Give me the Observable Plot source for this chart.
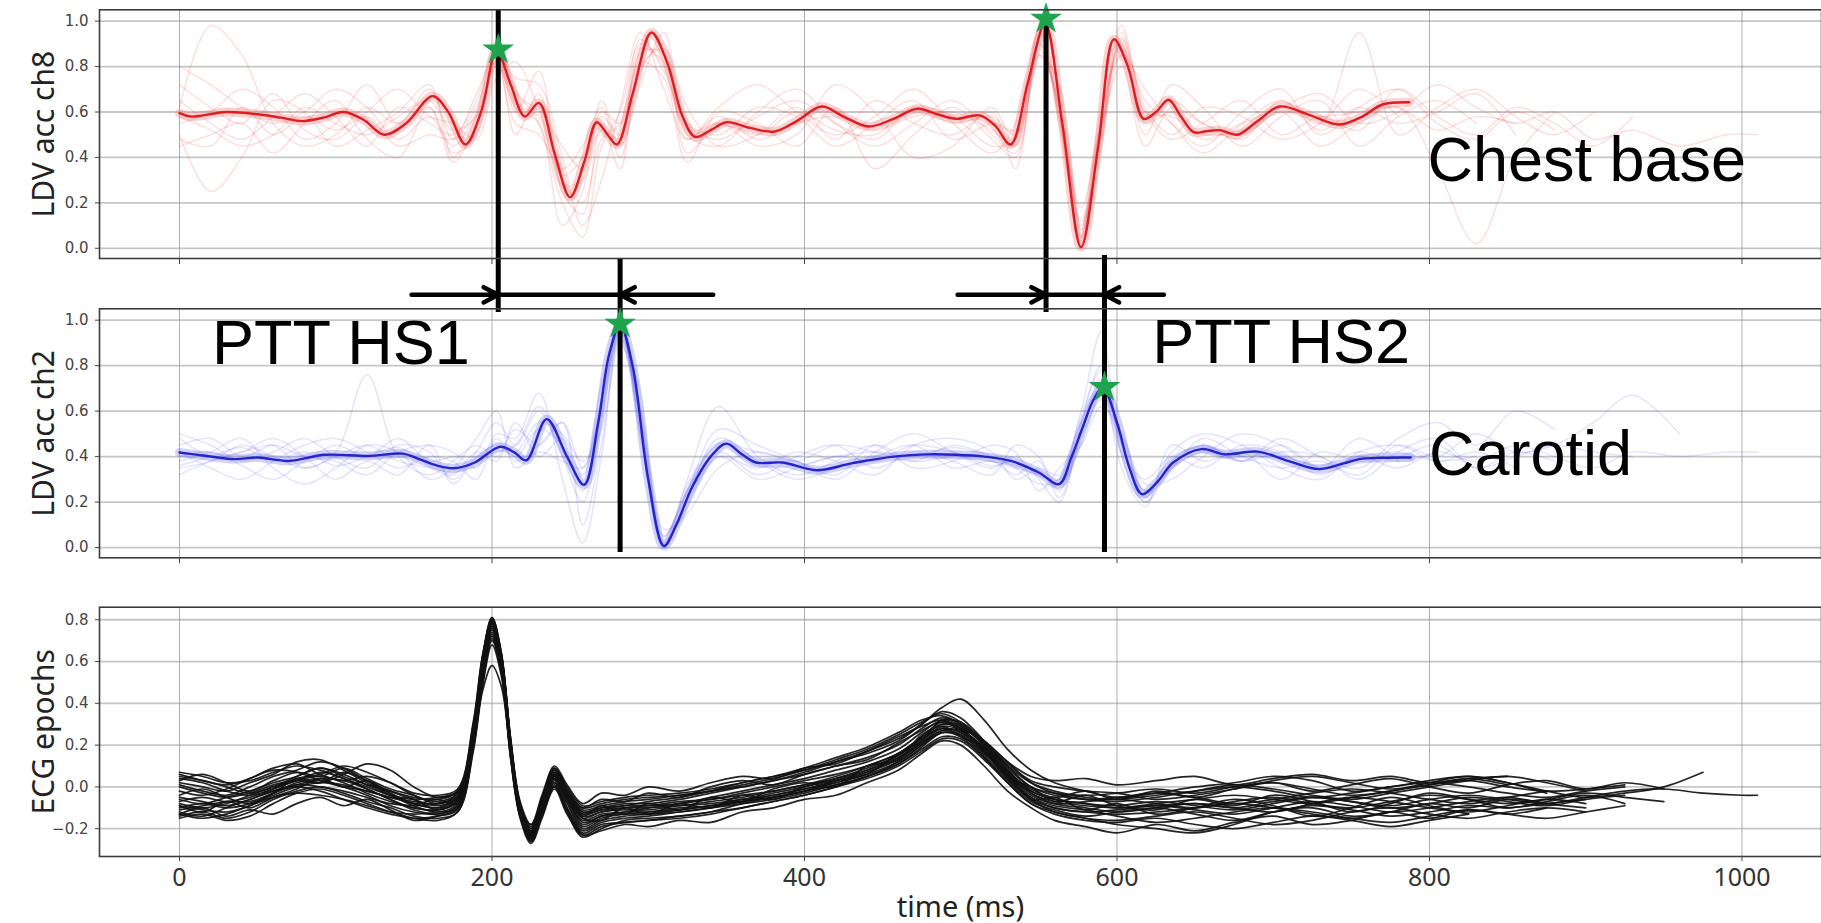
<!DOCTYPE html>
<html><head><meta charset="utf-8">
<script src="https://cdn.jsdelivr.net/npm/d3@7"></script>
<script src="https://cdn.jsdelivr.net/npm/@observablehq/plot@0.6"></script>
<style>
body{margin:0;background:#fff;}
#wrap{position:relative;width:1821px;height:923px;overflow:hidden;background:#fff;}
#wrap svg{position:absolute;left:0;top:0;}
</style></head><body><div id="wrap"></div>
<script>
// ---------- axes / ticks ----------
const xTicks = [0, 200, 400, 600, 800, 1000];
const ldvTicks = [0, 0.2, 0.4, 0.6, 0.8, 1.0];
const ecgTicks = [-0.2, 0, 0.2, 0.4, 0.6, 0.8];
const yLabels = ["LDV acc ch8", "LDV acc ch2", "ECG epochs"];
const xLabel = "time (ms)";

// ---------- LDV chest (ch8) mean ----------
const redMeanT = [0,7,15,30,50,65,78,92,105,118,131,145,162,172,183,193,203,212,221,230,240,250,259,267,274,280,290,302,312,322,330,340,350,365,381,395,411,425,441,457,472,485,497,512,522,532,543,554,565,577,588,598,607,617,625,633,641,649,657,666,677,690,704,722,742,757,770,787];
const redMeanV = [0.595,0.58,0.585,0.60,0.59,0.575,0.56,0.575,0.60,0.565,0.50,0.55,0.67,0.60,0.457,0.60,0.87,0.72,0.58,0.64,0.42,0.225,0.38,0.555,0.50,0.457,0.68,0.95,0.82,0.58,0.49,0.52,0.555,0.53,0.514,0.56,0.624,0.58,0.536,0.57,0.614,0.59,0.57,0.585,0.54,0.457,0.73,0.99,0.55,0.005,0.45,0.92,0.80,0.57,0.60,0.654,0.58,0.511,0.515,0.52,0.50,0.56,0.624,0.59,0.545,0.58,0.633,0.643];

// ---------- LDV carotid (ch2) mean ----------
const blueMeanT = [0,15,35,50,70,93,121,143,153,165,176,189,205,214,222,235,248,259,268,275,282,290,300,310,318,328,340,350,360,369,386,408,430,457,480,497,515,532,550,563,571,578,585,591,600,608,616,626,636,654,669,690,710,729,745,755,770,788];
const blueMeanV = [0.418,0.405,0.389,0.396,0.381,0.408,0.403,0.413,0.39,0.36,0.349,0.374,0.443,0.42,0.384,0.565,0.40,0.276,0.55,0.85,0.98,0.80,0.30,0.007,0.10,0.264,0.40,0.457,0.41,0.374,0.374,0.34,0.37,0.40,0.41,0.408,0.40,0.381,0.33,0.279,0.40,0.528,0.65,0.704,0.55,0.35,0.235,0.29,0.374,0.433,0.41,0.422,0.38,0.345,0.37,0.389,0.395,0.396];

// ---------- individual LDV epochs (shared time grid) ----------
const ldvT = [0,20,40,60,80,100,120,140,160,175,190,203,215,230,245,258,270,282,295,310,325,345,370,395,420,445,470,495,520,535,550,563,577,590,603,618,635,655,680,705,730,755,780,805,830,855,880,905,930,960,990,1010];
const redEpochs = [
 [0.80,0.72,0.62,0.55,0.60,0.70,0.62,0.48,0.58,0.45,0.60,0.90,0.70,0.55,0.20,0.05,0.45,0.60,0.90,0.80,0.50,0.45,0.60,0.70,0.55,0.45,0.55,0.65,0.50,0.42,0.85,0.65,0.10,0.50,0.92,0.65,0.55,0.45,0.60,0.70,0.50,0.62,0.70,0.55,0.48,0.60,0.52],
 [0.62,0.98,0.85,0.55,0.45,0.50,0.62,0.55,0.70,0.48,0.62,0.85,0.75,0.72,0.40,0.10,0.30,0.62,0.95,0.70,0.48,0.62,0.72,0.60,0.50,0.58,0.70,0.55,0.42,0.55,0.95,0.55,0.05,0.62,0.85,0.50,0.72,0.62,0.45,0.58,0.65,0.45,0.58,0.65,0.55],
 [0.50,0.25,0.40,0.65,0.60,0.45,0.52,0.60,0.72,0.40,0.58,0.80,0.55,0.50,0.35,0.45,0.62,0.40,0.78,0.90,0.42,0.55,0.45,0.50,0.72,0.60,0.40,0.45,0.62,0.45,0.90,0.70,0.02,0.45,0.95,0.62,0.50,0.62,0.58,0.48,0.55,0.70,0.58],
 [0.55,0.60,0.70,0.62,0.48,0.55,0.72,0.55,0.62,0.42,0.50,0.88,0.60,0.78,0.25,0.15,0.55,0.35,0.80,0.88,0.62,0.45,0.50,0.62,0.48,0.65,0.55,0.50,0.60,0.35,0.88,0.62,0.12,0.48,0.85,0.70,0.55,0.42,0.55,0.65,0.55,0.95,0.50,0.62,0.70,0.58,0.50,0.60],
 [0.45,0.50,0.55,0.42,0.55,0.65,0.48,0.40,0.62,0.38,0.55,0.82,0.62,0.55,0.10,0.25,0.60,0.55,0.82,0.75,0.38,0.60,0.55,0.45,0.62,0.35,0.50,0.62,0.48,0.40,0.92,0.58,0.18,0.55,0.80,0.45,0.62,0.55,0.50,0.60,0.45,0.55,0.62,0.35,0.02,0.40,0.60],
 [0.65,0.55,0.48,0.58,0.68,0.58,0.45,0.62,0.55,0.50,0.65,0.92,0.68,0.60,0.30,0.20,0.48,0.55,0.92,0.78,0.55,0.50,0.62,0.58,0.45,0.55,0.65,0.48,0.55,0.52,0.96,0.60,0.00,0.58,0.90,0.55,0.60,0.48,0.55,0.62,0.68,0.55,0.60,0.72,0.62,0.55,0.60,0.48,0.52,0.45,0.50,0.50],
 [0.72,0.62,0.55,0.68,0.52,0.48,0.60,0.70,0.58,0.55,0.48,0.75,0.82,0.62,0.45,0.35,0.65,0.45,0.72,0.95,0.55,0.48,0.58,0.65,0.55,0.48,0.62,0.58,0.45,0.48,0.85,0.72,0.08,0.52,0.98,0.60,0.48,0.55,0.65,0.50,0.58,0.52,0.70,0.58,0.50,0.62,0.55,0.45,0.58],
 [0.48,0.45,0.62,0.50,0.58,0.52,0.58,0.45,0.50,0.48,0.68,0.85,0.50,0.68,0.32,0.40,0.58,0.50,0.88,0.82,0.48,0.58,0.48,0.55,0.58,0.52,0.58,0.60,0.52,0.45,0.90,0.62,0.05,0.58,0.88,0.58,0.65,0.55,0.48,0.65,0.52,0.62,0.55,0.60,0.68,0.50],
 [0.58,0.52,0.45,0.50,0.62,0.55,0.50,0.58,0.65,0.52,0.58,0.86,0.64,0.58,0.28,0.30,0.52,0.48,0.86,0.86,0.52,0.55,0.50,0.60,0.52,0.50,0.62,0.55,0.58,0.50,0.94,0.58,0.03,0.52,0.93,0.60,0.58,0.50,0.52,0.60,0.58,0.60,0.62,0.52,0.58,0.55]
];
const blueEpochs = [
 [0.50,0.45,0.38,0.42,0.48,0.40,0.35,0.45,0.42,0.30,0.42,0.55,0.45,0.60,0.40,0.20,0.55,0.95,0.62,0.05,0.25,0.52,0.45,0.38,0.30,0.42,0.50,0.42,0.35,0.40,0.30,0.20,0.55,0.80,0.55,0.22,0.42,0.50,0.45,0.35,0.30,0.42,0.45,0.38,0.42,0.35],
 [0.35,0.38,0.45,0.40,0.35,0.42,0.76,0.40,0.32,0.38,0.45,0.40,0.52,0.45,0.55,0.35,0.62,1.00,0.50,0.02,0.18,0.40,0.35,0.42,0.38,0.32,0.45,0.48,0.42,0.30,0.35,0.32,0.60,0.95,0.40,0.20,0.35,0.45,0.38,0.48,0.40,0.35,0.48,0.55,0.45,0.60,0.52],
 [0.42,0.35,0.30,0.38,0.45,0.48,0.42,0.35,0.40,0.38,0.30,0.48,0.38,0.45,0.55,0.10,0.45,0.90,0.60,0.00,0.30,0.62,0.40,0.32,0.38,0.45,0.35,0.38,0.45,0.42,0.25,0.35,0.45,0.62,0.50,0.28,0.30,0.40,0.50,0.45,0.35,0.48,0.38],
 [0.38,0.42,0.48,0.35,0.28,0.35,0.45,0.42,0.30,0.35,0.48,0.60,0.35,0.42,0.38,0.35,0.72,0.98,0.48,0.05,0.25,0.42,0.32,0.40,0.45,0.35,0.42,0.38,0.32,0.45,0.40,0.25,0.50,0.72,0.35,0.18,0.45,0.38,0.42,0.30,0.42,0.38,0.40,0.45,0.35,0.40,0.45,0.42,0.40],
 [0.45,0.48,0.40,0.45,0.40,0.38,0.32,0.42,0.45,0.42,0.35,0.50,0.48,0.68,0.30,0.02,0.40,0.92,0.68,0.08,0.15,0.35,0.42,0.38,0.45,0.42,0.38,0.45,0.40,0.35,0.28,0.30,0.58,0.78,0.48,0.25,0.35,0.48,0.40,0.35,0.38,0.32,0.45,0.40,0.50,0.42,0.45,0.55,0.67,0.50],
 [0.32,0.38,0.42,0.48,0.40,0.30,0.38,0.32,0.45,0.28,0.40,0.45,0.42,0.55,0.50,0.38,0.52,0.96,0.55,0.00,0.22,0.48,0.38,0.30,0.35,0.40,0.45,0.35,0.38,0.32,0.38,0.22,0.48,0.65,0.42,0.30,0.40,0.35,0.45,0.42,0.32,0.40,0.35,0.42,0.38,0.45,0.40,0.35,0.42,0.40,0.42,0.42],
 [0.40,0.42,0.36,0.30,0.38,0.45,0.40,0.48,0.38,0.40,0.40,0.42,0.45,0.62,0.42,0.25,0.58,0.99,0.52,0.03,0.20,0.40,0.30,0.35,0.40,0.38,0.45,0.42,0.36,0.38,0.32,0.30,0.55,0.70,0.45,0.20,0.38,0.45,0.38,0.42,0.40,0.30,0.42,0.48,0.35,0.42,0.38],
 [0.48,0.40,0.42,0.45,0.35,0.40,0.45,0.38,0.35,0.32,0.42,0.38,0.55,0.40,0.48,0.32,0.65,0.97,0.58,0.02,0.28,0.45,0.42,0.38,0.32,0.45,0.38,0.40,0.38,0.35,0.32,0.28,0.45,0.68,0.50,0.25,0.35,0.42,0.38,0.45,0.35,0.40,0.42,0.38,0.40],
 [0.36,0.40,0.44,0.38,0.42,0.36,0.40,0.44,0.36,0.33,0.38,0.46,0.40,0.52,0.45,0.28,0.60,0.97,0.56,0.01,0.24,0.46,0.36,0.36,0.40,0.42,0.40,0.44,0.40,0.36,0.34,0.26,0.52,0.74,0.46,0.22,0.40,0.44,0.40,0.40,0.36,0.42,0.38,0.42]
];

// ---------- ECG epochs (shared time grid) ----------
const ecgT = [0,15,30,45,60,75,90,105,120,135,150,165,178,188,194,200,206,212,218,225,232,240,248,258,270,285,300,320,340,360,380,400,420,440,460,475,488,500,515,530,545,560,580,600,625,650,675,700,725,750,775,800,825,850,875,900,925,950,975,1000,1010];
const ecgEpochs = [
 [0.07,0.05,0.02,0.03,0.07,0.10,0.08,0.04,0.00,-0.04,-0.06,-0.05,
  -0.02,0.30,0.60,0.80,0.62,0.22,-0.08,-0.20,-0.05,0.08,-0.02,-0.12,-0.10,-0.09,
  -0.07,-0.05,-0.02,0.02,0.05,0.08,0.12,0.16,0.22,0.30,0.38,0.42,0.32,0.18,0.08,0.02,-0.02,-0.05,
  -0.03,0.00,0.02,0.05,0.03,-0.02,0.00,0.03,0.05,0.02,-0.03],
 [-0.12,-0.14,-0.10,-0.06,-0.02,0.00,-0.02,-0.06,-0.10,-0.13,-0.15,-0.14,
  -0.10,0.22,0.55,0.78,0.58,0.15,-0.14,-0.26,-0.12,0.02,-0.10,-0.22,-0.18,-0.17,
  -0.16,-0.14,-0.12,-0.10,-0.07,-0.04,0.00,0.05,0.12,0.20,0.26,0.24,0.14,0.02,-0.08,-0.12,-0.15,-0.16,
  -0.14,-0.12,-0.15,-0.18,-0.16,-0.12,-0.10,-0.13,-0.15,-0.12,-0.10,-0.12],
 [0.02,0.00,-0.02,0.02,0.06,0.12,0.13,0.08,0.02,-0.03,-0.08,-0.10,
  -0.05,0.28,0.62,0.81,0.64,0.20,-0.10,-0.22,-0.06,0.09,-0.01,-0.10,-0.08,-0.06,
  -0.05,-0.04,-0.02,0.00,0.03,0.06,0.10,0.14,0.20,0.28,0.33,0.30,0.20,0.08,-0.02,-0.06,-0.08,-0.10,
  -0.08,-0.06,-0.04,-0.06,-0.08,-0.05,-0.02,0.02,0.05,0.02,-0.02,-0.05,-0.03,0.00,0.07],
 [-0.08,-0.10,-0.08,-0.04,0.00,0.03,0.05,0.02,-0.03,-0.07,-0.10,-0.11,
  -0.06,0.26,0.58,0.76,0.60,0.18,-0.12,-0.24,-0.10,0.05,-0.05,-0.18,-0.14,-0.12,
  -0.12,-0.11,-0.09,-0.07,-0.05,-0.02,0.02,0.07,0.14,0.22,0.29,0.27,0.18,0.06,-0.03,-0.07,-0.09,-0.10,
  -0.09,-0.08,-0.10,-0.07,-0.05,-0.07,-0.09,-0.06,-0.04,-0.06,-0.08,-0.05,-0.02,-0.01,-0.03,-0.04,-0.04],
 [-0.14,-0.12,-0.15,-0.12,-0.06,-0.02,0.00,-0.03,-0.07,-0.10,-0.14,-0.15,
  -0.12,0.18,0.50,0.70,0.55,0.14,-0.14,-0.25,-0.14,0.00,-0.12,-0.24,-0.20,-0.16,
  -0.15,-0.14,-0.12,-0.08,-0.05,-0.02,0.03,0.08,0.15,0.24,0.30,0.28,0.17,0.04,-0.06,-0.12,-0.15,-0.18,
  -0.20,-0.22,-0.18,-0.12,-0.10,-0.14,-0.12,-0.08,-0.10,-0.06,-0.08],
 [-0.02,-0.04,-0.01,0.04,0.08,0.07,0.03,0.00,-0.02,-0.05,-0.07,-0.08,
  -0.04,0.28,0.60,0.79,0.63,0.21,-0.09,-0.21,-0.07,0.07,-0.03,-0.14,-0.12,-0.10,
  -0.09,-0.07,-0.06,-0.03,0.00,0.03,0.06,0.10,0.16,0.24,0.31,0.29,0.20,0.10,0.02,-0.02,-0.05,-0.06,
  -0.04,-0.02,0.00,-0.02,-0.05,-0.03,0.00,0.02,0.00,-0.03,-0.05,-0.02,0.00],
 [-0.06,-0.08,-0.05,-0.02,0.02,0.05,0.09,0.06,0.01,-0.04,-0.09,-0.12,
  -0.08,0.24,0.58,0.77,0.60,0.18,-0.11,-0.23,-0.09,0.04,-0.06,-0.16,-0.13,-0.12,
  -0.10,-0.08,-0.06,-0.04,-0.02,0.01,0.04,0.09,0.15,0.23,0.30,0.28,0.18,0.07,-0.03,-0.08,-0.10,-0.12,
  -0.10,-0.08,-0.10,-0.12,-0.08,-0.05,-0.07,-0.10,-0.12,-0.09,-0.06,-0.08],
 [0.04,0.02,-0.02,-0.04,-0.01,0.04,0.06,0.10,0.07,0.02,-0.04,-0.07,
  -0.03,0.26,0.60,0.78,0.61,0.20,-0.10,-0.22,-0.07,0.06,-0.03,-0.12,-0.10,-0.08,
  -0.08,-0.06,-0.03,0.00,0.03,0.07,0.12,0.17,0.23,0.30,0.36,0.33,0.22,0.10,0.00,-0.04,-0.06,-0.05,
  -0.03,-0.05,-0.08,-0.06,-0.03,-0.01,-0.03,-0.06,-0.08,-0.05,-0.02],
 [-0.10,-0.08,-0.10,-0.08,-0.03,0.02,0.04,0.03,-0.01,-0.06,-0.11,-0.13,
  -0.09,0.22,0.54,0.74,0.58,0.17,-0.12,-0.24,-0.11,0.03,-0.07,-0.19,-0.15,-0.13,
  -0.12,-0.10,-0.09,-0.06,-0.04,-0.01,0.02,0.06,0.12,0.20,0.27,0.25,0.16,0.05,-0.05,-0.10,-0.12,-0.13,
  -0.12,-0.10,-0.08,-0.10,-0.13,-0.15,-0.12],
 [0.00,-0.03,-0.05,-0.03,0.01,0.03,0.02,0.06,0.11,0.08,0.00,-0.05,
  -0.02,0.27,0.61,0.80,0.63,0.21,-0.09,-0.21,-0.06,0.08,-0.02,-0.11,-0.09,-0.07,
  -0.06,-0.04,-0.02,0.01,0.04,0.08,0.13,0.18,0.25,0.31,0.35,0.31,0.21,0.09,0.00,-0.03,-0.04,-0.03,
  -0.01,-0.03,0.00,0.02,-0.01,-0.04,-0.02,0.01,0.03,0.00,-0.02,-0.01,0.01],
 [-0.13,-0.15,-0.13,-0.09,-0.05,-0.03,-0.04,-0.06,-0.09,-0.12,-0.13,-0.12,
  -0.10,0.20,0.52,0.72,0.56,0.15,-0.13,-0.25,-0.13,0.01,-0.10,-0.21,-0.17,-0.15,
  -0.14,-0.12,-0.10,-0.08,-0.06,-0.03,0.01,0.05,0.11,0.18,0.24,0.23,0.14,0.03,-0.07,-0.11,-0.14,-0.12,
  -0.10,-0.13,-0.16,-0.12,-0.09,-0.11,-0.14,-0.12,-0.09,-0.10,-0.08,-0.06],
 [-0.05,-0.07,-0.09,-0.06,-0.02,0.01,0.00,-0.02,-0.05,-0.08,-0.09,-0.08,
  -0.05,0.22,0.46,0.58,0.48,0.16,-0.10,-0.18,-0.07,0.04,-0.04,-0.13,-0.11,-0.10,
  -0.10,-0.09,-0.07,-0.05,-0.02,0.01,0.05,0.10,0.16,0.23,0.28,0.26,0.17,0.06,-0.04,-0.08,-0.07,-0.06,
  -0.08,-0.10,-0.07,-0.05,-0.08,-0.10,-0.07,-0.04,-0.06,-0.08,-0.06,-0.03,-0.05,-0.07],
 [0.05,0.03,0.00,-0.03,0.00,0.05,0.09,0.05,0.01,-0.02,-0.05,-0.06,
  -0.02,0.29,0.63,0.81,0.64,0.22,-0.08,-0.19,-0.05,0.09,0.00,-0.09,-0.07,-0.05,
  -0.04,-0.03,-0.01,0.02,0.05,0.09,0.14,0.19,0.26,0.32,0.34,0.30,0.21,0.11,0.03,0.00,-0.02,-0.03,
  -0.06,-0.04,-0.01,0.03,0.05,0.02,-0.01,0.01,0.04,0.05],
 [-0.09,-0.11,-0.12,-0.09,-0.04,0.00,0.02,0.01,-0.02,-0.05,-0.08,-0.10,
  -0.07,0.24,0.57,0.76,0.59,0.19,-0.11,-0.23,-0.10,0.05,-0.05,-0.17,-0.14,-0.13,
  -0.13,-0.12,-0.10,-0.07,-0.04,-0.01,0.03,0.07,0.13,0.21,0.28,0.26,0.17,0.05,-0.05,-0.09,-0.11,-0.14,
  -0.17,-0.15,-0.12,-0.10,-0.12,-0.15,-0.17,-0.14,-0.11,-0.13,-0.15,-0.12,-0.09],
 [-0.15,-0.13,-0.16,-0.14,-0.08,-0.03,-0.01,-0.04,-0.08,-0.12,-0.15,-0.16,
  -0.12,0.17,0.48,0.68,0.53,0.13,-0.15,-0.27,-0.15,-0.01,-0.13,-0.23,-0.19,-0.17,
  -0.16,-0.15,-0.13,-0.10,-0.07,-0.04,0.00,0.04,0.10,0.17,0.23,0.22,0.13,0.02,-0.08,-0.13,-0.16,-0.17,
  -0.15,-0.18,-0.20,-0.17,-0.14,-0.16,-0.19,-0.16,-0.13],
 [0.01,-0.02,-0.04,0.00,0.05,0.08,0.12,0.09,0.03,-0.02,-0.06,-0.09,
  -0.05,0.27,0.60,0.79,0.62,0.20,-0.10,-0.22,-0.08,0.06,-0.03,-0.13,-0.11,-0.09,
  -0.09,-0.08,-0.05,-0.02,0.01,0.04,0.08,0.12,0.18,0.26,0.32,0.31,0.22,0.12,0.02,-0.03,-0.06,-0.07,
  -0.05,-0.02,0.01,-0.01,-0.04,-0.06,-0.03,0.00,0.03,0.05,0.02,-0.02],
 [-0.07,-0.05,-0.07,-0.05,-0.01,0.03,0.07,0.04,-0.01,-0.06,-0.10,-0.11,
  -0.07,0.25,0.59,0.78,0.61,0.19,-0.11,-0.23,-0.09,0.05,-0.04,-0.15,-0.12,-0.11,
  -0.11,-0.09,-0.08,-0.06,-0.03,0.00,0.04,0.08,0.14,0.21,0.27,0.27,0.19,0.08,-0.02,-0.06,-0.08,-0.09,
  -0.07,-0.09,-0.11,-0.08,-0.05,-0.07,-0.10,-0.08,-0.05,-0.07,-0.09,-0.06,-0.04],
 [-0.11,-0.09,-0.07,-0.07,-0.03,0.01,0.03,0.00,-0.04,-0.09,-0.12,-0.13,
  -0.09,0.21,0.53,0.73,0.57,0.16,-0.12,-0.24,-0.12,0.02,-0.08,-0.20,-0.16,-0.14,
  -0.13,-0.11,-0.09,-0.07,-0.05,-0.02,0.01,0.05,0.11,0.19,0.26,0.25,0.15,0.04,-0.06,-0.10,-0.12,-0.11,
  -0.09,-0.11,-0.13,-0.10,-0.07,-0.09,-0.12,-0.10,-0.07,-0.05,-0.08,-0.10],
 [0.06,0.03,0.01,0.04,0.09,0.11,0.06,0.03,0.05,0.02,-0.03,-0.04,
  -0.01,0.31,0.63,0.80,0.63,0.23,-0.07,-0.18,-0.04,0.10,0.01,-0.08,-0.03,-0.04,
  0.00,-0.02,0.02,0.05,0.04,0.09,0.11,0.17,0.24,0.29,0.32,0.28,0.22,0.12,0.05,0.03,0.04,0.01,
  0.03,0.05,0.01,0.04,0.06,0.03,0.05,0.02,0.04,0.01],
 [-0.13,-0.10,-0.14,-0.11,-0.13,-0.08,-0.05,-0.09,-0.06,-0.11,-0.16,-0.14,
  -0.11,0.19,0.50,0.71,0.55,0.14,-0.14,-0.26,-0.13,0.00,-0.11,-0.23,-0.21,-0.18,
  -0.19,-0.16,-0.17,-0.12,-0.10,-0.06,-0.04,0.02,0.08,0.16,0.22,0.20,0.10,-0.02,-0.10,-0.16,-0.19,-0.22,
  -0.18,-0.21,-0.17,-0.14,-0.18,-0.16,-0.12,-0.15,-0.11,-0.13,-0.10],
 [-0.04,-0.01,-0.05,-0.08,-0.03,0.04,0.02,0.07,0.03,-0.04,-0.06,-0.11,
  -0.06,0.26,0.59,0.77,0.60,0.19,-0.10,-0.22,-0.08,0.06,-0.04,-0.14,-0.09,-0.13,
  -0.08,-0.11,-0.05,-0.07,-0.01,0.02,0.00,0.10,0.13,0.25,0.29,0.24,0.19,0.05,0.00,-0.07,-0.04,-0.09,
  -0.11,-0.06,-0.09,-0.04,-0.07,-0.12,-0.08,-0.03,-0.06,-0.10,-0.07,-0.04,-0.08],
 [-0.09,-0.12,-0.07,-0.10,-0.05,-0.01,0.04,0.00,0.03,-0.03,-0.08,-0.06,
  -0.08,0.23,0.56,0.75,0.59,0.18,-0.11,-0.23,-0.10,0.04,-0.05,-0.15,-0.16,-0.10,
  -0.13,-0.08,-0.10,-0.04,-0.06,0.00,0.03,0.06,0.16,0.22,0.32,0.29,0.16,0.07,-0.06,-0.05,-0.11,-0.08,
  -0.13,-0.10,-0.06,-0.09,-0.14,-0.10,-0.05,-0.09,-0.13],
 [0.03,0.06,0.02,-0.02,0.03,0.07,0.05,0.09,0.04,-0.01,-0.04,-0.08,
  -0.03,0.28,0.61,0.79,0.62,0.21,-0.09,-0.20,-0.06,0.07,-0.02,-0.10,-0.06,-0.07,
  -0.03,-0.05,0.00,0.03,0.01,0.06,0.10,0.13,0.21,0.27,0.31,0.27,0.19,0.07,-0.01,-0.05,-0.02,-0.06,
  -0.02,-0.05,-0.01,0.02,-0.02,0.01,0.04,0.00,-0.03,0.01,0.03,-0.01,0.02,-0.01]
];

// ---------- PTT annotations ----------
const chestPeakT = [204, 554.6];       // chest-base peak times (ms)
const chestStarV = [0.874, 1.01];
const carotidPeakT = [282, 592];       // carotid peak times (ms)
const carotidStarV = [0.984, 0.705];
const chestRuleTop = [1.047, 1.047], chestRuleBottom = [-0.283, -0.283];
const carotidRuleTop = [1.267, 1.284], carotidRuleBottom = [-0.022, -0.022];
const arrowLevel = -0.205;             // in chest-panel units
const arrowFrom = [148.5, 341.6, 498, 630];
const arrowTo = [204, 282, 554.6, 592];
const spanFrom = [204, 554.6], spanTo = [282, 592];
const textChest = [{t: 798.7, v: 0.298, s: "Chest base"}];
const textCarotidStart = [{t: 20.8, v: 0.808, s: "PTT HS1"}, {t: 799.7, v: 0.317, s: "Carotid"}];
const textCarotidEnd = [{t: 787.6, v: 0.81, s: "PTT HS2"}];

// ---------- tidy tables ----------
const tidy = (grid, traces) => traces.flatMap((vals, k) => vals.map((v, i) => ({t: grid[i], v, k})));
const pairs = (T, V) => T.map((t, i) => ({t, v: V[i]}));
const redE = tidy(ldvT, redEpochs), blueE = tidy(ldvT, blueEpochs), ecgE = tidy(ecgT, ecgEpochs);
const redM = pairs(redMeanT, redMeanV), blueM = pairs(blueMeanT, blueMeanV);
const chestRules = chestPeakT.map((t, i) => ({t, top: chestRuleTop[i], bottom: chestRuleBottom[i]}));
const carotidRules = carotidPeakT.map((t, i) => ({t, top: carotidRuleTop[i], bottom: carotidRuleBottom[i]}));
const arrows = arrowFrom.map((f, i) => ({f, to: arrowTo[i], y: arrowLevel}));
const spans = spanFrom.map((f, i) => ({f, to: spanTo[i], y: arrowLevel}));
const starsC = pairs(chestPeakT, chestStarV), starsK = pairs(carotidPeakT, carotidStarV);

const W = 1821, H = 923;
const curve = "catmull-rom";
const fmt = d3.format(".1f");

function panel({top, bottom, domain, ticks, marks, label, showX}) {
  return Plot.plot({
    width: W, height: H, marginLeft: 99, marginRight: 0, marginTop: top, marginBottom: H - bottom,
    x: {domain: [-51.2, 1050.9]},
    y: {domain},
    style: {background: "transparent", color: "#444", fontFamily: "DejaVu Sans", overflow: "visible"},
    marks: [
      Plot.gridY(ticks, {stroke: "#c6c6c6", strokeOpacity: 1, strokeWidth: 1.8}),
      Plot.gridX(xTicks, {stroke: "#a0a0a0", strokeOpacity: 0.85, strokeWidth: 1}),
      ...marks,
      Plot.frame({stroke: "#3c3c3c", strokeWidth: 1.6}),
      Plot.axisY(ticks, {tickSize: 4, tickPadding: 7, tickFormat: fmt, fontSize: 15, label: null}),
      showX
        ? Plot.axisX(xTicks, {tickSize: 5, tickPadding: 7, fontSize: 25, fontFamily: "Noto Sans", fill: "#333", label: null, tickFormat: d3.format("d")})
        : Plot.axisX(xTicks, {tickSize: 6, tickFormat: () => "", label: null}),
      Plot.text([label], {frameAnchor: "left", textAnchor: "middle", rotate: -90, dx: -46, lineAnchor: "bottom", fontSize: 30, fontFamily: "Noto Sans", fill: "#222"})
    ]
  });
}

const big = {x: "t", y: "v", text: "s", lineAnchor: "bottom", fontSize: 63, fontFamily: "Liberation Sans", fill: "#000"};

const p1 = panel({
  top: 9.3, bottom: 258, domain: [-0.045, 1.05], ticks: ldvTicks, label: yLabels[0],
  marks: [
    Plot.line(redE, {x: "t", y: "v", z: "k", stroke: "#ee3030", strokeOpacity: 0.15, strokeWidth: 1.5, curve}),
    Plot.line(redM, {x: "t", y: "v", stroke: "#f26a6a", strokeOpacity: 0.3, strokeWidth: 9, curve}),
    Plot.line(redM, {x: "t", y: "v", stroke: "#dc1e24", strokeWidth: 2.4, curve}),
    Plot.text(textChest, {...big, textAnchor: "start"}),
    Plot.ruleX(chestRules, {x: "t", y1: "top", y2: "bottom", stroke: "#000", strokeWidth: 5}),
    Plot.ruleY(spans, {x1: "f", x2: "to", y: "y", stroke: "#000", strokeWidth: 4.5}),
    Plot.arrow(arrows, {x1: "f", x2: "to", y1: "y", y2: "y", stroke: "#000", strokeWidth: 4.5, headLength: 5.5, headAngle: 55}),
    Plot.dot(starsC, {x: "t", y: "v", symbol: "star", r: 10, fill: "#1fa34c", stroke: "none"})
  ]
});
const p2 = panel({
  top: 308.3, bottom: 557.3, domain: [-0.045, 1.05], ticks: ldvTicks, label: yLabels[1],
  marks: [
    Plot.line(blueE, {x: "t", y: "v", z: "k", stroke: "#3030ee", strokeOpacity: 0.13, strokeWidth: 1.5, curve}),
    Plot.line(blueM, {x: "t", y: "v", stroke: "#6a6af2", strokeOpacity: 0.3, strokeWidth: 9, curve}),
    Plot.line(blueM, {x: "t", y: "v", stroke: "#2424c8", strokeWidth: 2.4, curve}),
    Plot.text(textCarotidStart, {...big, textAnchor: "start"}),
    Plot.text(textCarotidEnd, {...big, textAnchor: "end"}),
    Plot.ruleX(carotidRules, {x: "t", y1: "top", y2: "bottom", stroke: "#000", strokeWidth: 5}),
    Plot.dot(starsK, {x: "t", y: "v", symbol: "star", r: 10, fill: "#1fa34c", stroke: "none"})
  ]
});
const p3 = panel({
  top: 606.7, bottom: 856, domain: [-0.333, 0.86], ticks: ecgTicks, label: yLabels[2], showX: true,
  marks: [
    Plot.line(ecgE, {x: "t", y: "v", z: "k", stroke: "#111", strokeOpacity: 0.92, strokeWidth: 1.7, curve}),
    Plot.text([xLabel], {frameAnchor: "bottom", dy: 60, lineAnchor: "bottom", fontSize: 29, fontFamily: "Noto Sans", fill: "#222"})
  ]
});
const wrap = document.getElementById("wrap");
wrap.append(p1, p2, p3);
</script></body></html>
